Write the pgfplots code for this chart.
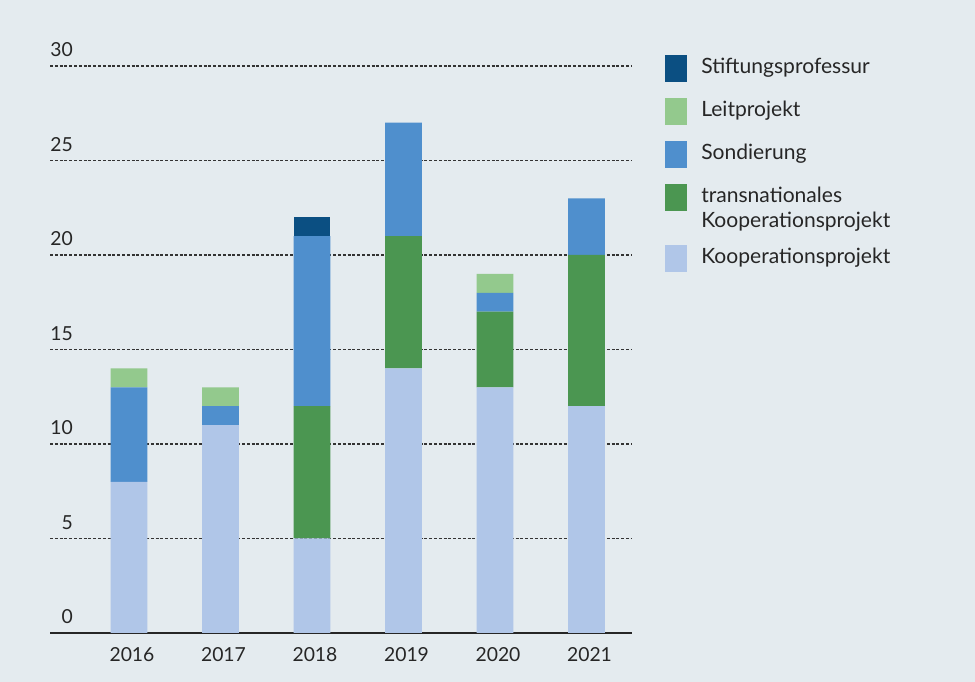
\documentclass[border=0pt]{standalone}
\usepackage{fontspec}
\setmainfont{Lato}
\usepackage{pgfplots}
\pgfplotsset{compat=1.18}
\definecolor{bg}{HTML}{E4EBEF}
\definecolor{cStift}{HTML}{0B4F82}
\definecolor{cLeit}{HTML}{93C98D}
\definecolor{cSond}{HTML}{4F8FCD}
\definecolor{cTrans}{HTML}{4B9651}
\definecolor{cKoop}{HTML}{B0C6E8}
\begin{document}
\begin{tikzpicture}
\fill[bg] (0,0) rectangle (731.25pt,511.5pt);
\useasboundingbox (0,0) rectangle (731.25pt,511.5pt);
\begin{axis}[
  at={(37.5pt,36.75pt)}, anchor=south west,
  scale only axis, width=436.5pt, height=425.25pt,
  ybar stacked, bar width=0.40,
  legend image code/.code={\path (0pt,-5.875pt) rectangle (16.5pt,14.375pt);
    \fill[#1] (0pt,-4pt) rectangle (16.5pt,12.5pt);},
  xmin=-0.863, xmax=5.497, ymin=0, ymax=30,
  xtick={0,...,5}, xticklabels={2016,2017,2018,2019,2020,2021},
  ytick={0,5,...,30},
  axis x line*=bottom, axis y line*=left,
  y axis line style={draw=none},
  x axis line style={line width=1.5pt, color=black!85},
  major tick length=0pt,
  ymajorgrids,
  grid style={black!80, line width=0.9pt, dash pattern=on 2.2pt off 1.4pt},
  /pgf/number format/assume math mode=true,
  tick label style={font=\fontsize{14.5}{17}\selectfont, text=black!85, inner sep=0pt},
  yticklabel style={anchor=base east, xshift=17.25pt, yshift=6.75pt},
  xticklabel style={anchor=base, yshift=-21.75pt, xshift=2.25pt},
  reverse legend,
  legend style={at={(1,1)}, anchor=north west, xshift=24.75pt, yshift=8.625pt,
    draw=none, fill=none, inner sep=0pt,
    font=\fontsize{15.8}{18.75}\selectfont,
    text=black!85,
    nodes={inner sep=0pt},
    cells={anchor=base west},
    column sep=10.5pt, row sep=12pt},
]
\addplot[draw=none, fill=cKoop] coordinates {(0,8) (1,11) (2,5) (3,14) (4,13) (5,12)};
\addlegendentry{Kooperationsprojekt}
\addlegendimage{empty legend}
\addlegendentry{}
\addplot[draw=none, fill=cTrans] coordinates {(0,0) (1,0) (2,7) (3,7) (4,4) (5,8)};
\addlegendentry{\parbox[t]{170pt}{transnationales\\Kooperationsprojekt}}
\addplot[draw=none, fill=cSond] coordinates {(0,5) (1,1) (2,9) (3,6) (4,1) (5,3)};
\addlegendentry{Sondierung}
\addplot[draw=none, fill=cLeit] coordinates {(0,1) (1,1) (2,0) (3,0) (4,1) (5,0)};
\addlegendentry{Leitprojekt}
\addplot[draw=none, fill=cStift] coordinates {(0,0) (1,0) (2,1) (3,0) (4,0) (5,0)};
\addlegendentry{Stiftungsprofessur}
\end{axis}
\end{tikzpicture}
\end{document}
